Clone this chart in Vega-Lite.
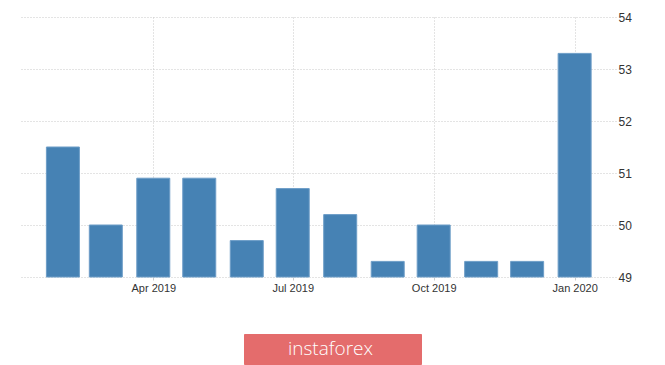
{
  "$schema": "https://vega.github.io/schema/vega-lite/v6.json",
  "autosize": {"type": "none"},
  "width": 596,
  "height": 260,
  "padding": {"left": 20, "top": 17, "right": 49, "bottom": 88},
  "background": "white",
  "data": {"values": [
    {"date": "2019-02-01", "value": 51.5},
    {"date": "2019-03-01", "value": 50.0},
    {"date": "2019-04-01", "value": 50.9},
    {"date": "2019-05-01", "value": 50.9},
    {"date": "2019-06-01", "value": 49.7},
    {"date": "2019-07-01", "value": 50.7},
    {"date": "2019-08-01", "value": 50.2},
    {"date": "2019-09-01", "value": 49.3},
    {"date": "2019-10-01", "value": 50.0},
    {"date": "2019-11-01", "value": 49.3},
    {"date": "2019-12-01", "value": 49.3},
    {"date": "2020-01-01", "value": 53.3}
  ]},
  "mark": {"type": "bar", "size": 33, "fill": "#4682b4", "stroke": "#6d9dc7", "strokeWidth": 1},
  "encoding": {
    "x": {
      "field": "date", "type": "temporal", "title": null,
      "scale": {"type": "utc", "padding": 0, "domain": [
        {"year": 2019, "month": 1, "date": 4, "utc": true},
        {"year": 2020, "month": 1, "date": 28, "utc": true}
      ]},
      "axis": {
        "values": [
          {"year": 2019, "month": 4, "date": 1, "utc": true},
          {"year": 2019, "month": 7, "date": 1, "utc": true},
          {"year": 2019, "month": 10, "date": 1, "utc": true},
          {"year": 2020, "month": 1, "date": 1, "utc": true}
        ],
        "labelExpr": "utcFormat(datum.value, '%b %Y')",
        "domain": false, "ticks": true, "tickSize": 3, "tickColor": "#cccccc",
        "grid": true, "gridDash": [1, 2], "gridColor": "#c8c8c8",
        "labelPadding": 2, "labelFont": "Liberation Sans", "labelFontSize": 11, "labelColor": "#333333"
      }
    },
    "y": {
      "field": "value", "type": "quantitative", "title": null,
      "scale": {"domain": [49, 54], "zero": false, "nice": false},
      "axis": {
        "orient": "right", "values": [49, 50, 51, 52, 53, 54],
        "domain": false, "ticks": false, "labelPadding": 2,
        "grid": true, "gridDash": [1, 2], "gridColor": "#c8c8c8",
        "labelFont": "Liberation Sans", "labelFontSize": 12, "labelColor": "#333333"
      }
    },
    "y2": {"datum": 49},
    "color": {
      "datum": "instaforex", "type": "nominal",
      "scale": {"domain": ["instaforex", " "], "range": ["#4682b4", "#4682b4"]},
      "legend": {
        "orient": "none", "legendX": 224, "legendY": 317,
        "direction": "horizontal", "columns": 2, "columnPadding": 4,
        "title": null, "fillColor": "#e46c6c", "strokeColor": "#e46c6c", "padding": 5,
        "symbolSize": 1, "symbolOpacity": 0, "symbolStrokeWidth": 0,
        "labelOffset": 20, "labelFont": "Open Sans", "labelFontSize": 19, "labelFontWeight": 300,
        "labelColor": "white", "labelLimit": 200
      }
    }
  },
  "config": {"view": {"stroke": null}}
}
